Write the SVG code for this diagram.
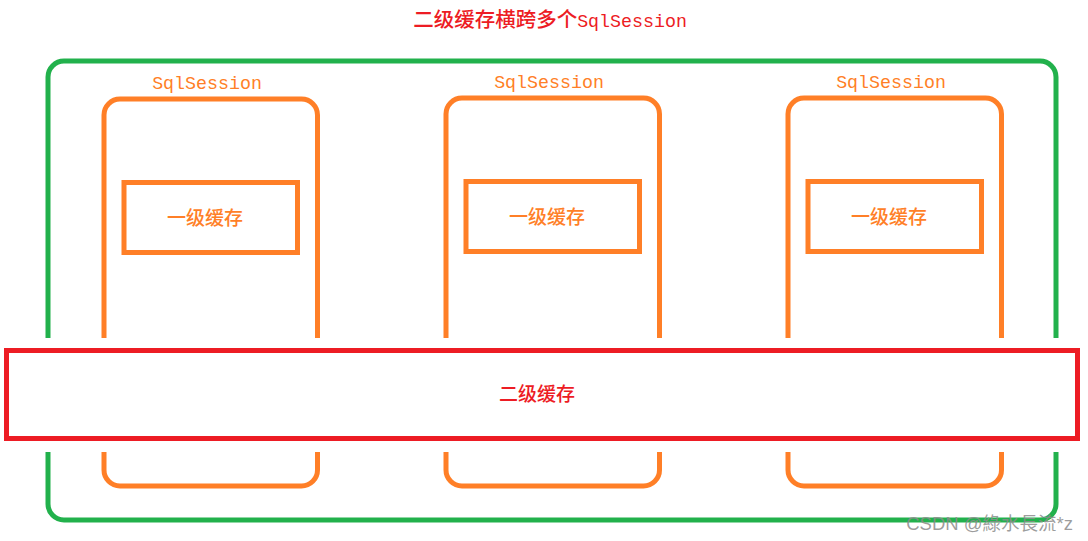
<svg xmlns="http://www.w3.org/2000/svg" width="1088" height="541" viewBox="0 0 1088 541">
<style>
.green{fill:none;stroke:#22b14c;stroke-width:5}
.orange{fill:none;stroke:#ff7f27;stroke-width:5}
.red{fill:none;stroke:#ed1c24;stroke-width:5}
.mono{font-family:"Liberation Mono","Noto Sans CJK SC",monospace;font-size:18.3px}
.cjk{font-family:"Noto Sans CJK SC",sans-serif;font-size:19px;font-weight:500}
.ot{fill:#ff7f27}
.rt{fill:#ed1c24}
</style>
<rect width="1088" height="541" fill="#ffffff"/>
<g id="title">
<text x="550" y="27" text-anchor="middle" class="rt"><tspan class="cjk" style="font-size:20.5px">二级缓存横跨多个</tspan><tspan class="mono">SqlSession</tspan></text>
</g>
<g id="container">
<rect class="green" x="48" y="61" width="1008" height="459" rx="16"/>
</g>
<g id="session1">
<rect class="orange" x="104" y="99" width="213.5" height="387" rx="16"/>
<text class="mono ot" x="207" y="89" text-anchor="middle">SqlSession</text>
<g id="l1cache1">
<rect class="orange" x="124" y="182.5" width="173.5" height="70"/>
<text class="cjk ot" x="205" y="225" text-anchor="middle">一级缓存</text>
</g>
</g>
<g id="session2">
<rect class="orange" x="446" y="98" width="213.5" height="388" rx="16"/>
<text class="mono ot" x="549" y="88" text-anchor="middle">SqlSession</text>
<g id="l1cache2">
<rect class="orange" x="466" y="181.5" width="173.5" height="70"/>
<text class="cjk ot" x="547" y="224" text-anchor="middle">一级缓存</text>
</g>
</g>
<g id="session3">
<rect class="orange" x="788" y="98" width="213.5" height="388" rx="16"/>
<text class="mono ot" x="891" y="88" text-anchor="middle">SqlSession</text>
<g id="l1cache3">
<rect class="orange" x="808" y="181.5" width="173.5" height="70"/>
<text class="cjk ot" x="889" y="224" text-anchor="middle">一级缓存</text>
</g>
</g>
<g id="l2cache">
<rect x="0" y="338" width="1088" height="114" fill="#ffffff"/>
<rect class="red" x="6.5" y="350.5" width="1071" height="88"/>
<text class="cjk rt" x="537" y="401" text-anchor="middle">二级缓存</text>
</g>
<g id="connectors"></g>
<text x="1073" y="530" text-anchor="end" font-family="Liberation Sans,'Noto Sans CJK TC',sans-serif" font-size="18.5" fill="#8c8c8c" fill-opacity="0.85">CSDN @綠水長流*z</text>
</svg>
